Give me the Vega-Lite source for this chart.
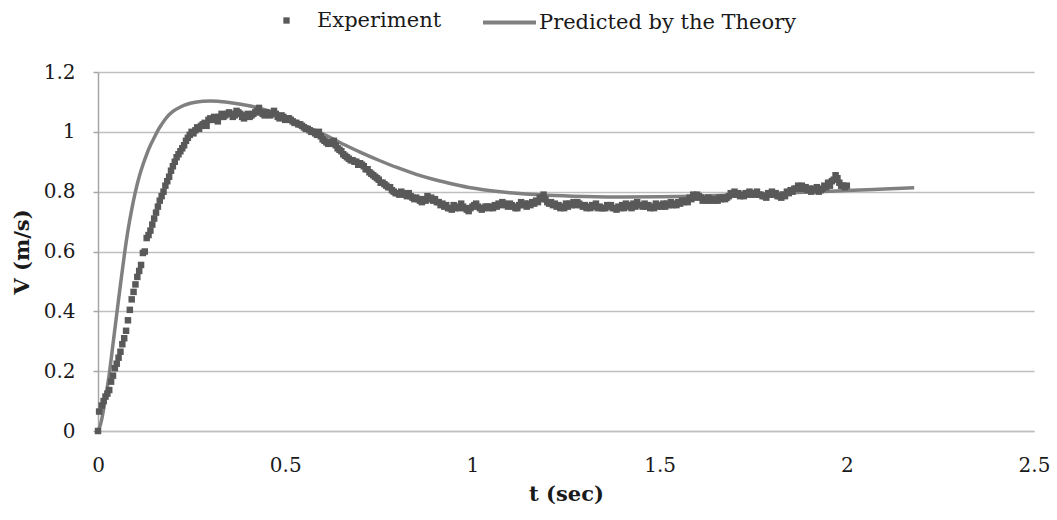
{
  "$schema": "https://vega.github.io/schema/vega-lite/v6.json",
  "autosize": {"type": "none"},
  "width": 936,
  "height": 359,
  "padding": {"left": 98, "top": 72, "right": 23, "bottom": 89},
  "background": "white",
  "config": {
    "view": {"stroke": null},
    "font": "DejaVu Serif",
    "axis": {"labelFont": "DejaVu Serif", "labelFontSize": 20, "labelColor": "#1a1a1a", "titleFont": "DejaVu Serif", "titleFontSize": 21, "titleFontWeight": "bold", "titleColor": "#1a1a1a"},
    "legend": {"labelFont": "DejaVu Serif", "labelFontSize": 21, "labelColor": "#1a1a1a", "labelLimit": 400, "padding": 0}
  },
  "datasets": {
    "exp": [
      {"t":0,"v":0.0},{"t":0.003,"v":0.065},{"t":0.01,"v":0.085},{"t":0.015,"v":0.1},{"t":0.02,"v":0.115},{"t":0.025,"v":0.125},{"t":0.03,"v":0.137},{"t":0.035,"v":0.165},{"t":0.04,"v":0.185},{"t":0.045,"v":0.21},{"t":0.05,"v":0.225},{"t":0.055,"v":0.245},{"t":0.06,"v":0.265},{"t":0.065,"v":0.29},{"t":0.07,"v":0.31},{"t":0.075,"v":0.335},{"t":0.08,"v":0.37},{"t":0.085,"v":0.405},{"t":0.09,"v":0.44},{"t":0.095,"v":0.465},{"t":0.1,"v":0.49},{"t":0.105,"v":0.515},{"t":0.11,"v":0.535},{"t":0.115,"v":0.555},{"t":0.12,"v":0.595},{"t":0.125,"v":0.6},{"t":0.13,"v":0.645},{"t":0.135,"v":0.655},{"t":0.14,"v":0.67},{"t":0.145,"v":0.69},{"t":0.15,"v":0.71},{"t":0.155,"v":0.73},{"t":0.16,"v":0.75},{"t":0.165,"v":0.77},{"t":0.17,"v":0.785},{"t":0.175,"v":0.8},{"t":0.18,"v":0.82},{"t":0.185,"v":0.835},{"t":0.19,"v":0.85},{"t":0.195,"v":0.87},{"t":0.2,"v":0.885},{"t":0.205,"v":0.9},{"t":0.21,"v":0.915},{"t":0.215,"v":0.925},{"t":0.22,"v":0.935},{"t":0.225,"v":0.945},{"t":0.23,"v":0.955},{"t":0.235,"v":0.97},{"t":0.24,"v":0.98},{"t":0.245,"v":0.99},{"t":0.25,"v":1.0},{"t":0.255,"v":0.995},{"t":0.26,"v":1.005},{"t":0.265,"v":1.015},{"t":0.27,"v":1.01},{"t":0.275,"v":1.02},{"t":0.28,"v":1.025},{"t":0.285,"v":1.03},{"t":0.29,"v":1.02},{"t":0.295,"v":1.04},{"t":0.3,"v":1.045},
      {"t":0.31,"v":1.05},{"t":0.32,"v":1.035},{"t":0.33,"v":1.06},{"t":0.34,"v":1.055},{"t":0.35,"v":1.065},{"t":0.36,"v":1.05},{"t":0.37,"v":1.07},{"t":0.38,"v":1.06},{"t":0.39,"v":1.045},{"t":0.4,"v":1.06},{"t":0.41,"v":1.055},{"t":0.42,"v":1.065},{"t":0.43,"v":1.08},{"t":0.44,"v":1.06},{"t":0.45,"v":1.065},{"t":0.46,"v":1.055},{"t":0.47,"v":1.07},{"t":0.48,"v":1.05},{"t":0.49,"v":1.055},{"t":0.5,"v":1.04},{"t":0.51,"v":1.045},{"t":0.52,"v":1.035},{"t":0.53,"v":1.03},{"t":0.54,"v":1.025},{"t":0.55,"v":1.015},{"t":0.56,"v":1.01},{"t":0.57,"v":1.0},{"t":0.58,"v":0.995},{"t":0.59,"v":1.0},{"t":0.6,"v":0.975},{"t":0.61,"v":0.965},{"t":0.62,"v":0.96},{"t":0.63,"v":0.97},{"t":0.64,"v":0.945},{"t":0.65,"v":0.935},{"t":0.66,"v":0.92},{"t":0.67,"v":0.91},{"t":0.68,"v":0.905},{"t":0.69,"v":0.9},{"t":0.7,"v":0.895},{"t":0.71,"v":0.885},{"t":0.72,"v":0.875},{"t":0.73,"v":0.86},{"t":0.74,"v":0.85},{"t":0.75,"v":0.84},{"t":0.76,"v":0.83},{"t":0.77,"v":0.82},{"t":0.78,"v":0.815},{"t":0.79,"v":0.8},{"t":0.8,"v":0.795},{"t":0.81,"v":0.8},{"t":0.82,"v":0.79},{"t":0.83,"v":0.795},{"t":0.84,"v":0.78},{"t":0.85,"v":0.78},{"t":0.86,"v":0.77},{"t":0.87,"v":0.775},{"t":0.88,"v":0.785},{"t":0.89,"v":0.78},{"t":0.9,"v":0.775},{"t":0.91,"v":0.765},{"t":0.92,"v":0.76},{"t":0.93,"v":0.755},{"t":0.94,"v":0.745},{"t":0.95,"v":0.755},{"t":0.96,"v":0.75},{"t":0.97,"v":0.76},{"t":0.98,"v":0.745},{"t":0.99,"v":0.735},{"t":1.0,"v":0.75},
      {"t":1.01,"v":0.76},{"t":1.02,"v":0.745},{"t":1.03,"v":0.745},{"t":1.04,"v":0.75},{"t":1.05,"v":0.75},{"t":1.06,"v":0.755},{"t":1.07,"v":0.76},{"t":1.08,"v":0.765},{"t":1.09,"v":0.755},{"t":1.1,"v":0.76},{"t":1.11,"v":0.75},{"t":1.12,"v":0.745},{"t":1.13,"v":0.765},{"t":1.14,"v":0.76},{"t":1.15,"v":0.76},{"t":1.16,"v":0.765},{"t":1.17,"v":0.77},{"t":1.18,"v":0.78},{"t":1.19,"v":0.79},{"t":1.2,"v":0.765},{"t":1.21,"v":0.765},{"t":1.22,"v":0.76},{"t":1.23,"v":0.755},{"t":1.24,"v":0.75},{"t":1.25,"v":0.76},{"t":1.26,"v":0.76},{"t":1.27,"v":0.765},{"t":1.28,"v":0.765},{"t":1.29,"v":0.755},{"t":1.3,"v":0.755},{"t":1.31,"v":0.75},{"t":1.32,"v":0.755},{"t":1.33,"v":0.76},{"t":1.34,"v":0.75},{"t":1.35,"v":0.745},{"t":1.36,"v":0.755},{"t":1.37,"v":0.755},{"t":1.38,"v":0.745},{"t":1.39,"v":0.75},{"t":1.4,"v":0.755},{"t":1.41,"v":0.76},{"t":1.42,"v":0.755},{"t":1.43,"v":0.76},{"t":1.44,"v":0.765},{"t":1.45,"v":0.755},{"t":1.46,"v":0.76},{"t":1.47,"v":0.755},{"t":1.48,"v":0.75},{"t":1.49,"v":0.76},{"t":1.5,"v":0.755},
      {"t":1.51,"v":0.76},{"t":1.52,"v":0.76},{"t":1.53,"v":0.765},{"t":1.54,"v":0.76},{"t":1.55,"v":0.765},{"t":1.56,"v":0.77},{"t":1.57,"v":0.77},{"t":1.58,"v":0.78},{"t":1.59,"v":0.79},{"t":1.6,"v":0.79},{"t":1.61,"v":0.78},{"t":1.62,"v":0.775},{"t":1.63,"v":0.78},{"t":1.64,"v":0.775},{"t":1.65,"v":0.775},{"t":1.66,"v":0.78},{"t":1.67,"v":0.78},{"t":1.68,"v":0.78},{"t":1.69,"v":0.795},{"t":1.7,"v":0.8},{"t":1.71,"v":0.795},{"t":1.72,"v":0.79},{"t":1.73,"v":0.795},{"t":1.74,"v":0.8},{"t":1.75,"v":0.795},{"t":1.76,"v":0.8},{"t":1.77,"v":0.79},{"t":1.78,"v":0.785},{"t":1.79,"v":0.795},{"t":1.8,"v":0.8},{"t":1.81,"v":0.795},{"t":1.82,"v":0.785},{"t":1.83,"v":0.79},{"t":1.84,"v":0.8},{"t":1.85,"v":0.805},{"t":1.86,"v":0.81},{"t":1.87,"v":0.82},{"t":1.88,"v":0.82},{"t":1.89,"v":0.815},{"t":1.9,"v":0.81},{"t":1.91,"v":0.81},{"t":1.92,"v":0.815},{"t":1.93,"v":0.805},{"t":1.94,"v":0.82},{"t":1.95,"v":0.83},{"t":1.96,"v":0.835},{"t":1.97,"v":0.855},{"t":1.98,"v":0.83},{"t":1.99,"v":0.82},{"t":2.0,"v":0.82},
      {"t":0.305,"v":1.04},{"t":0.315,"v":1.045},{"t":0.325,"v":1.05},{"t":0.335,"v":1.05},{"t":0.345,"v":1.06},{"t":0.355,"v":1.06},{"t":0.365,"v":1.055},{"t":0.375,"v":1.065},{"t":0.385,"v":1.05},{"t":0.395,"v":1.055},{"t":0.405,"v":1.05},{"t":0.415,"v":1.06},{"t":0.425,"v":1.07},{"t":0.435,"v":1.065},{"t":0.445,"v":1.055},{"t":0.455,"v":1.06},{"t":0.465,"v":1.06},{"t":0.475,"v":1.06},{"t":0.485,"v":1.045},{"t":0.495,"v":1.05},{"t":0.505,"v":1.045},{"t":0.515,"v":1.04},{"t":0.525,"v":1.03},{"t":0.535,"v":1.025},{"t":0.545,"v":1.02},{"t":0.555,"v":1.01},{"t":0.565,"v":1.005},{"t":0.575,"v":1.0},{"t":0.585,"v":0.99},{"t":0.595,"v":0.985},{"t":0.605,"v":0.97},{"t":0.615,"v":0.96},{"t":0.625,"v":0.965},{"t":0.635,"v":0.955},{"t":0.645,"v":0.94},{"t":0.655,"v":0.925},{"t":0.665,"v":0.915},{"t":0.675,"v":0.905},{"t":0.685,"v":0.9},{"t":0.695,"v":0.89},{"t":0.705,"v":0.89},{"t":0.715,"v":0.875},{"t":0.725,"v":0.865},{"t":0.735,"v":0.855},{"t":0.745,"v":0.845},{"t":0.755,"v":0.83},{"t":0.765,"v":0.825},{"t":0.775,"v":0.815},{"t":0.785,"v":0.805},{"t":0.795,"v":0.795},
      {"t":0.805,"v":0.79},{"t":0.815,"v":0.795},{"t":0.825,"v":0.785},{"t":0.835,"v":0.785},{"t":0.845,"v":0.775},{"t":0.855,"v":0.775},{"t":0.865,"v":0.765},{"t":0.875,"v":0.77},{"t":0.885,"v":0.775},{"t":0.895,"v":0.77},{"t":0.905,"v":0.765},{"t":0.915,"v":0.755},{"t":0.925,"v":0.75},{"t":0.935,"v":0.745},{"t":0.945,"v":0.74},{"t":0.955,"v":0.745},{"t":0.965,"v":0.745},{"t":0.975,"v":0.75},{"t":0.985,"v":0.74},{"t":0.995,"v":0.745},{"t":1.005,"v":0.755},{"t":1.015,"v":0.75},{"t":1.025,"v":0.74},{"t":1.035,"v":0.75},{"t":1.045,"v":0.745},{"t":1.055,"v":0.745},{"t":1.065,"v":0.75},{"t":1.075,"v":0.755},{"t":1.085,"v":0.76},{"t":1.095,"v":0.75},{"t":1.105,"v":0.755},{"t":1.115,"v":0.745},{"t":1.125,"v":0.755},{"t":1.135,"v":0.755},{"t":1.145,"v":0.75},{"t":1.155,"v":0.755},{"t":1.165,"v":0.76},{"t":1.175,"v":0.765},{"t":1.185,"v":0.775},{"t":1.195,"v":0.775},{"t":1.205,"v":0.76},{"t":1.215,"v":0.755},{"t":1.225,"v":0.75},{"t":1.235,"v":0.745},{"t":1.245,"v":0.745},{"t":1.255,"v":0.75},{"t":1.265,"v":0.755},{"t":1.275,"v":0.755},{"t":1.285,"v":0.76},{"t":1.295,"v":0.75},
      {"t":1.305,"v":0.745},{"t":1.315,"v":0.745},{"t":1.325,"v":0.75},{"t":1.335,"v":0.745},{"t":1.345,"v":0.745},{"t":1.355,"v":0.745},{"t":1.365,"v":0.75},{"t":1.375,"v":0.745},{"t":1.385,"v":0.74},{"t":1.395,"v":0.745},{"t":1.405,"v":0.745},{"t":1.415,"v":0.75},{"t":1.425,"v":0.745},{"t":1.435,"v":0.75},{"t":1.445,"v":0.755},{"t":1.455,"v":0.75},{"t":1.465,"v":0.75},{"t":1.475,"v":0.745},{"t":1.485,"v":0.745},{"t":1.495,"v":0.75},{"t":1.505,"v":0.75},{"t":1.515,"v":0.75},{"t":1.525,"v":0.755},{"t":1.535,"v":0.755},{"t":1.545,"v":0.755},{"t":1.555,"v":0.76},{"t":1.565,"v":0.765},{"t":1.575,"v":0.765},{"t":1.585,"v":0.775},{"t":1.595,"v":0.78},{"t":1.605,"v":0.785},{"t":1.615,"v":0.77},{"t":1.625,"v":0.77},{"t":1.635,"v":0.77},{"t":1.645,"v":0.77},{"t":1.655,"v":0.77},{"t":1.665,"v":0.775},{"t":1.675,"v":0.775},{"t":1.685,"v":0.785},{"t":1.695,"v":0.79},{"t":1.705,"v":0.79},{"t":1.715,"v":0.785},{"t":1.725,"v":0.785},{"t":1.735,"v":0.79},{"t":1.745,"v":0.79},{"t":1.755,"v":0.79},{"t":1.765,"v":0.79},{"t":1.775,"v":0.785},{"t":1.785,"v":0.78},{"t":1.795,"v":0.79},
      {"t":1.805,"v":0.79},{"t":1.815,"v":0.785},{"t":1.825,"v":0.78},{"t":1.835,"v":0.785},{"t":1.845,"v":0.795},{"t":1.855,"v":0.8},{"t":1.865,"v":0.81},{"t":1.875,"v":0.81},{"t":1.885,"v":0.81},{"t":1.895,"v":0.805},{"t":1.905,"v":0.8},{"t":1.915,"v":0.805},{"t":1.925,"v":0.8},{"t":1.935,"v":0.81},{"t":1.945,"v":0.815},{"t":1.955,"v":0.82},{"t":1.965,"v":0.84},{"t":1.975,"v":0.845},{"t":1.985,"v":0.82},{"t":1.995,"v":0.815}
    ],
    "theory": [
      {"t":0,"v":0},{"t":0.005,"v":0.015},{"t":0.01,"v":0.04},{"t":0.02,"v":0.11},{"t":0.03,"v":0.19},{"t":0.04,"v":0.29},{"t":0.05,"v":0.39},{"t":0.06,"v":0.49},{"t":0.07,"v":0.585},{"t":0.08,"v":0.67},{"t":0.09,"v":0.74},{"t":0.1,"v":0.8},{"t":0.11,"v":0.85},{"t":0.12,"v":0.89},{"t":0.13,"v":0.925},{"t":0.14,"v":0.955},{"t":0.15,"v":0.98},{"t":0.16,"v":1.005},{"t":0.17,"v":1.025},{"t":0.18,"v":1.043},{"t":0.2,"v":1.068},{"t":0.22,"v":1.083},{"t":0.24,"v":1.093},{"t":0.26,"v":1.099},{"t":0.28,"v":1.102},{"t":0.3,"v":1.103},{"t":0.32,"v":1.102},{"t":0.35,"v":1.098},{"t":0.4,"v":1.088},{"t":0.45,"v":1.072},{"t":0.5,"v":1.05},{"t":0.55,"v":1.022},{"t":0.6,"v":0.993},{"t":0.65,"v":0.962},{"t":0.7,"v":0.932},{"t":0.75,"v":0.905},{"t":0.8,"v":0.88},{"t":0.85,"v":0.858},{"t":0.9,"v":0.84},{"t":0.95,"v":0.825},{"t":1.0,"v":0.812},{"t":1.05,"v":0.803},{"t":1.1,"v":0.796},{"t":1.2,"v":0.788},{"t":1.3,"v":0.784},{"t":1.4,"v":0.782},{"t":1.5,"v":0.783},{"t":1.6,"v":0.785},{"t":1.7,"v":0.789},{"t":1.8,"v":0.794},{"t":1.9,"v":0.799},{"t":2.0,"v":0.804},{"t":2.1,"v":0.809},{"t":2.18,"v":0.813}
    ]
  },
  "layer": [
    {
      "data": {"name": "theory"},
      "mark": {"type": "line", "strokeWidth": 3.5, "interpolate": "monotone"},
      "encoding": {
        "x": {"field": "t", "type": "quantitative"},
        "y": {"field": "v", "type": "quantitative"},
        "color": {
          "datum": "Predicted by the Theory",
          "scale": {"range": ["#808080"]},
          "legend": {
            "orient": "none", "legendX": 383, "legendY": -78, "title": null,
            "symbolType": "stroke", "symbolSize": 2809, "symbolStrokeWidth": 4, "labelOffset": 1
          }
        }
      }
    },
    {
      "data": {"name": "exp"},
      "mark": {"type": "point", "filled": true, "size": 42, "opacity": 1, "color": "#595959"},
      "encoding": {
        "x": {
          "field": "t", "type": "quantitative",
          "scale": {"domain": [0, 2.5], "nice": false, "zero": false},
          "axis": {"title": "t (sec)", "values": [0, 0.5, 1, 1.5, 2, 2.5], "format": "~g", "grid": false, "ticks": false, "tickSize": 0, "labelPadding": 24, "titlePadding": 8, "domainColor": "#bfbfbf", "domainWidth": 1.5, "labelFlush": false}
        },
        "y": {
          "field": "v", "type": "quantitative",
          "scale": {"domain": [0, 1.2], "nice": false},
          "axis": {"title": "V (m/s)", "values": [0, 0.2, 0.4, 0.6, 0.8, 1, 1.2], "format": "~g", "grid": true, "gridColor": "#bfbfbf", "gridWidth": 1.5, "domainColor": "#a6a6a6", "domainWidth": 1.5, "tickColor": "#a6a6a6", "tickSize": 5, "tickWidth": 1.5, "labelPadding": 18, "titlePadding": 11, "labelFlush": false}
        },
        "shape": {
          "datum": "Experiment",
          "scale": {"range": ["square"]},
          "legend": {
            "orient": "none", "legendX": 178, "legendY": -62, "title": null,
            "symbolSize": 40, "symbolFillColor": "#595959", "symbolStrokeColor": "#595959", "symbolStrokeWidth": 0, "labelOffset": 20
          }
        }
      }
    }
  ]
}
